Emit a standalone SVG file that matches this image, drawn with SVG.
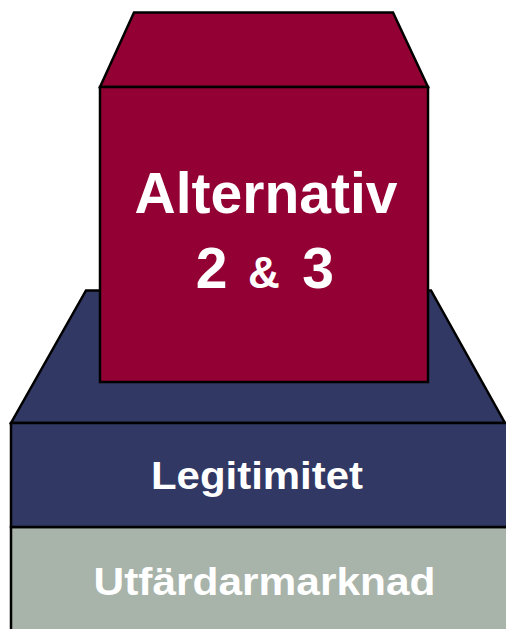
<svg xmlns="http://www.w3.org/2000/svg" width="506" height="629" viewBox="0 0 506 629">
<style>
.edge{stroke:#000;stroke-width:2.5;stroke-linejoin:miter}
.maroon{fill:#930033}
.blue{fill:#313863}
.gray{fill:#A8B3AA}
.lbl{font-family:"Liberation Sans",Arial,sans-serif;font-weight:bold;fill:#fff;text-anchor:middle}
</style>
<rect width="506" height="629" fill="#fff"/>
<g id="base-gray">
<rect class="gray edge" x="11" y="527" width="500" height="110"/>
<text class="lbl" x="264.5" y="594.5" font-size="39" textLength="342" lengthAdjust="spacingAndGlyphs">Utfärdarmarknad</text>
</g>
<g id="platform-blue">
<polygon class="blue edge" points="86,290.5 431,290.5 505,423 11,423"/>
<rect class="blue edge" x="11" y="423" width="500" height="104" stroke-width="3"/>
<text class="lbl" x="257" y="489.3" font-size="38" textLength="212" lengthAdjust="spacingAndGlyphs">Legitimitet</text>
</g>
<g id="cube-maroon">
<polygon class="maroon edge" points="134,12.5 393,12.5 428,87 100,87"/>
<rect class="maroon edge" x="100" y="87" width="328" height="295" stroke-width="3"/>
<text class="lbl" x="266" y="213" font-size="57">Alternativ</text>
<text class="lbl" x="211.5" y="288" font-size="57">2</text>
<text class="lbl" x="264" y="288" font-size="44">&amp;</text>
<text class="lbl" x="318" y="288" font-size="57">3</text>
</g>
</svg>
